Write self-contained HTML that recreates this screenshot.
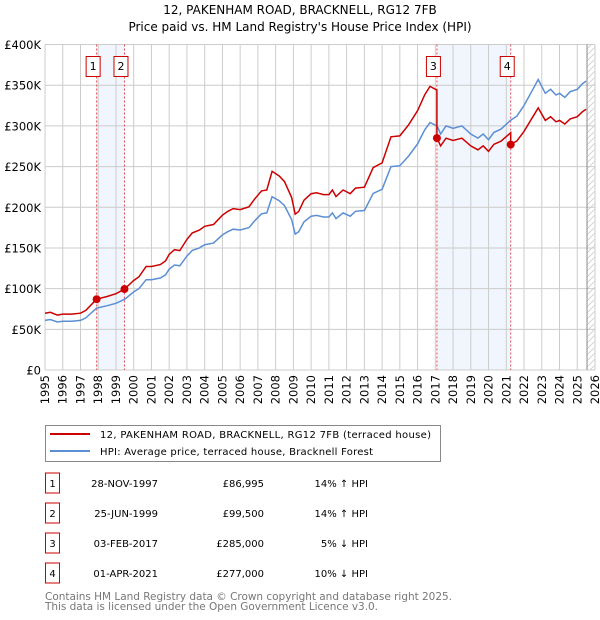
<!DOCTYPE html>
<html><head><meta charset="utf-8"><style>
body{margin:0;background:#fff;font-family:"DejaVu Sans","Liberation Sans",sans-serif}
svg{display:block}
</style></head><body>
<svg id="c" width="600" height="620" viewBox="0 0 600 620">
<text x="300" y="14" text-anchor="middle" font-size="12">12, PAKENHAM ROAD, BRACKNELL, RG12 7FB</text>
<text x="300" y="31" text-anchor="middle" font-size="12">Price paid vs. HM Land Registry's House Price Index (HPI)</text>
<g id="plot"></g>
<g>
<rect x="45.5" y="425.5" width="395" height="36" fill="#fff" stroke="#888"/>
<line x1="50" y1="434" x2="90" y2="434" stroke="#cc0000" stroke-width="2"/>
<text x="100" y="438" font-size="10" textLength="331">12, PAKENHAM ROAD, BRACKNELL, RG12 7FB (terraced house)</text>
<line x1="50" y1="451" x2="90" y2="451" stroke="#5b8fd4" stroke-width="2"/>
<text x="100" y="455" font-size="10" textLength="273">HPI: Average price, terraced house, Bracknell Forest</text>
</g>
<g id="table" font-size="10"></g>
<text x="45" y="600" font-size="10.5" fill="#777" textLength="407">Contains HM Land Registry data © Crown copyright and database right 2025.</text>
<text x="45" y="610" font-size="10.5" fill="#777" textLength="333">This data is licensed under the Open Government Licence v3.0.</text>
</svg>
<script>
const hpiYears=[1995.0,1995.3,1995.7,1996.0,1996.5,1997.0,1997.3,1997.9,1998.5,1999.0,1999.5,2000.0,2000.3,2000.7,2001.0,2001.5,2001.8,2002.0,2002.3,2002.6,2003.0,2003.3,2003.7,2004.0,2004.5,2005.0,2005.3,2005.6,2006.0,2006.5,2006.8,2007.2,2007.5,2007.8,2008.2,2008.5,2008.9,2009.1,2009.3,2009.6,2010.0,2010.3,2010.7,2011.0,2011.2,2011.4,2011.8,2012.2,2012.5,2013.0,2013.5,2014.0,2014.5,2015.0,2015.5,2016.0,2016.4,2016.7,2017.1,2017.3,2017.6,2018.0,2018.5,2019.0,2019.4,2019.7,2020.0,2020.3,2020.7,2021.0,2021.25,2021.6,2022.0,2022.5,2022.8,2023.2,2023.5,2023.8,2024.0,2024.3,2024.6,2025.0,2025.3,2025.5];
const hpiValues=[61,62,59,60,60,61,64,76,79,82,87,96,100,111,111,113,117,124,129,128,140,147,150,154,156,166,170,173,172,175,183,192,193,213,208,202,185,167,170,182,189,190,188,188,193,186,193,189,195,196,217,222,250,251,263,278,295,304,300,290,300,297,300,290,285,290,283,292,296,302,307,312,325,345,357,340,345,338,340,335,342,345,352,355];
const saleLabels=["1","2","3","4"];
const saleYears=[1997.91,1999.48,2017.09,2021.25];
const salePrices=[86995,99500,285000,277000];
const saleDates=["28-NOV-1997","25-JUN-1999","03-FEB-2017","01-APR-2021"];
const salePriceText=["£86,995","£99,500","£285,000","£277,000"];
const saleHpiText=["14% ↑ HPI","14% ↑ HPI","5% ↓ HPI","10% ↓ HPI"];
const yTicks=[0,50,100,150,200,250,300,350,400];
const yTickLabels=["£0","£50K","£100K","£150K","£200K","£250K","£300K","£350K","£400K"];
const xTicks=[1995,1996,1997,1998,1999,2000,2001,2002,2003,2004,2005,2006,2007,2008,2009,2010,2011,2012,2013,2014,2015,2016,2017,2018,2019,2020,2021,2022,2023,2024,2025,2026];

const X0=45,X1=595,Y0=370,Y1=44.5;
const xs=y=>X0+(y-1995)/(2026-1995)*(X1-X0);
const ys=v=>Y0-v/400*(Y0-Y1);
const NS="http://www.w3.org/2000/svg";
const plot=document.getElementById('plot');
function mk(tag,at,parent){const e=document.createElementNS(NS,tag);for(const k in at)e.setAttribute(k,at[k]);(parent||plot).appendChild(e);return e;}
function hpiAt(t){if(t<=hpiYears[0])return hpiValues[0];for(let i=1;i<hpiYears.length;i++){if(t<=hpiYears[i]){const f=(t-hpiYears[i-1])/(hpiYears[i]-hpiYears[i-1]);return hpiValues[i-1]+f*(hpiValues[i]-hpiValues[i-1]);}}return hpiValues[hpiValues.length-1];}

let sh=mk('rect',{x:xs(saleYears[0]),y:Y1,width:xs(saleYears[1])-xs(saleYears[0]),height:Y0-Y1,fill:'#eef3fc',opacity:0.8});

sh=mk('rect',{x:xs(saleYears[2]),y:Y1,width:xs(saleYears[3])-xs(saleYears[2]),height:Y0-Y1,fill:'#eef3fc',opacity:0.8});

const defs=mk('defs',{});
const pat=mk('pattern',{id:'h',width:6,height:6,patternUnits:'userSpaceOnUse'},defs);
mk('path',{d:'M0 6L6 0',stroke:'#ccc','stroke-width':0.8},pat);
const hx=xs(2025.55);
let ha=mk('rect',{x:hx,y:Y1,width:X1-hx,height:Y0-Y1,fill:'url(#h)'});

xTicks.forEach((t,i)=>{
 const g=mk('line',{x1:xs(t),x2:xs(t),y1:Y1,y2:Y0,stroke:'#ccc','stroke-width':1});
 
 const tx=mk('text',{x:0,y:0,'font-size':11.5,'text-anchor':'end',transform:`translate(${xs(t)+4},${Y0+5}) rotate(-90)`});
 tx.textContent=t;
 
});
yTicks.forEach((v,i)=>{
 const g=mk('line',{x1:X0,x2:X1,y1:ys(v),y2:ys(v),stroke:'#ccc','stroke-width':1});
 
 const tx=mk('text',{x:X0-4,y:ys(v)+4.5,'font-size':11.5,'text-anchor':'end'});
 tx.textContent=yTickLabels[i];
 
});
const vl=mk('line',{x1:hx,x2:hx,y1:Y1,y2:Y0,stroke:'#888','stroke-width':1});

saleYears.forEach((t,i)=>{
 const l=mk('line',{x1:xs(t),x2:xs(t),y1:Y1,y2:Y0,stroke:'#e05050','stroke-width':1,'stroke-dasharray':'2,2'});
 
});
let d=hpiYears.map((t,i)=>(i?'L':'M')+xs(t).toFixed(1)+' '+ys(hpiValues[i]).toFixed(1)).join('');
const hl=mk('path',{d,fill:'none',stroke:'#5b8fd4','stroke-width':1.5});

const ratios=saleYears.map((t,i)=>salePrices[i]/1000/hpiAt(t));
const pts=[];
const allT=hpiYears.concat(saleYears).sort((a,b)=>a-b);
allT.forEach(t=>{
 let k=0;for(let i=0;i<saleYears.length;i++)if(t>=saleYears[i])k=i;
 const isSale=saleYears.indexOf(t);
 if(isSale>0){pts.push([t,hpiAt(t)*ratios[isSale-1]]);}
 pts.push([t,hpiAt(t)*ratios[k]]);
});
d=pts.map((p,i)=>(i?'L':'M')+xs(p[0]).toFixed(1)+' '+ys(p[1]).toFixed(1)).join('');
const rl=mk('path',{d,fill:'none',stroke:'#cc0000','stroke-width':1.5});

saleYears.forEach((t,i)=>{
 const c=mk('circle',{cx:xs(t),cy:ys(salePrices[i]/1000),r:4,fill:'#cc0000'});
 
 const g=mk('g',{});
 
 const w=14,x=xs(t)-10.5;
 mk('rect',{x:x,y:56.5,width:w,height:20,fill:'#fff',stroke:'#cc0000'},g);
 const tx=mk('text',{x:x+w/2,y:70,'text-anchor':'middle','font-size':11},g);tx.textContent=saleLabels[i];
});
const tb=document.getElementById('table');
saleYears.forEach((t,i)=>{
 const cy=483+i*30;
 const g=mk('g',{},tb);
 
 mk('rect',{x:45.5,y:cy-10,width:14,height:20,fill:'#fff',stroke:'#cc0000'},g);
 let e=mk('text',{x:52.5,y:cy+4,'text-anchor':'middle'},g);e.textContent=saleLabels[i];
 e=mk('text',{x:158,y:cy+4,'text-anchor':'end'},g);e.textContent=saleDates[i];
 e=mk('text',{x:264,y:cy+4,'text-anchor':'end'},g);e.textContent=salePriceText[i];
 e=mk('text',{x:368,y:cy+4,'text-anchor':'end'},g);e.textContent=saleHpiText[i];
});
</script>
</body></html>
